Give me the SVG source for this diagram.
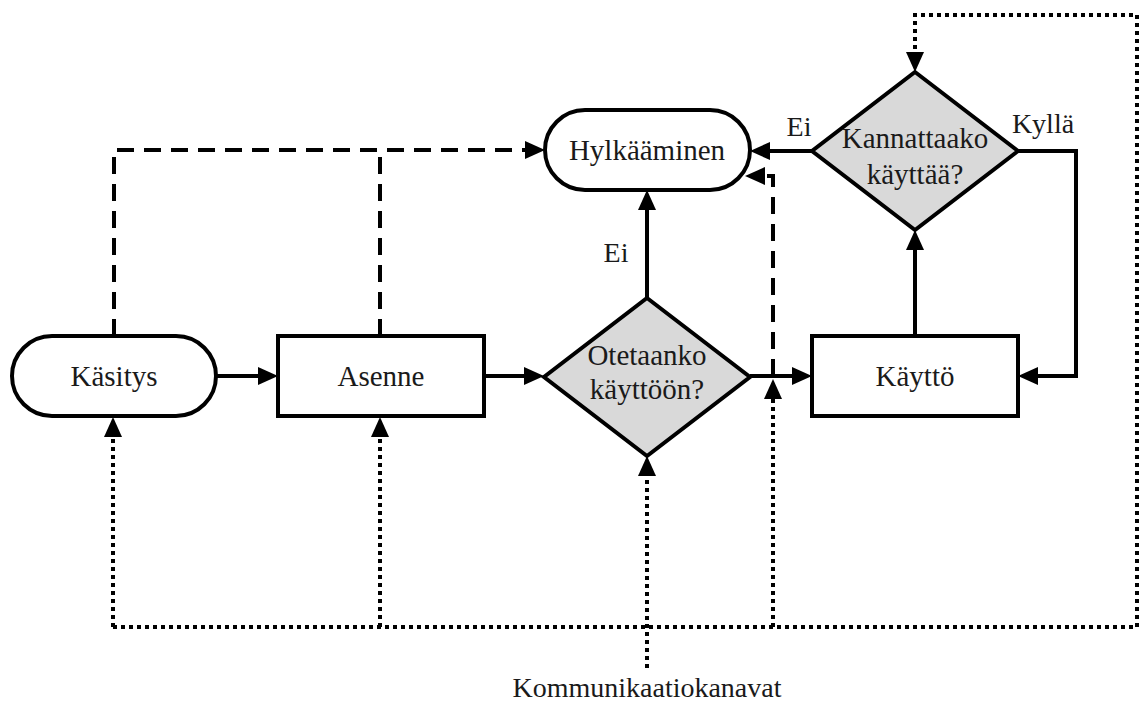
<svg xmlns="http://www.w3.org/2000/svg" width="1141" height="702" viewBox="0 0 1141 702">
  <style>
    .shape { fill: #ffffff; stroke: #000000; stroke-width: 4; }
    .decision { fill: #d9d9d9; stroke: #000000; stroke-width: 4; stroke-linejoin: miter; }
    .label { font-family: "Liberation Serif", "Times New Roman", serif; font-size: 28px; fill: #1a1a1a; text-anchor: middle; }
    .node-label { font-size: 29px; }
    .solid { fill: none; stroke: #000000; stroke-width: 4; }
    .dashed { fill: none; stroke: #000000; stroke-width: 4; stroke-dasharray: 17 10; }
    .dotted { fill: none; stroke: #000000; stroke-width: 4; stroke-dasharray: 4 4; }
  </style>
  <defs>
    <marker id="head" viewBox="0 0 20 18" refX="14" refY="9" markerWidth="20" markerHeight="18" markerUnits="userSpaceOnUse" orient="auto">
      <path d="M0,0 L20,9 L0,18 z" fill="#000000"/>
    </marker>
  </defs>

  <rect width="1141" height="702" fill="#ffffff"/>

  <!-- connectors -->
  <g id="connectors">
    <!-- main flow -->
    <path class="solid" d="M216 376 H272" marker-end="url(#head)"/>
    <path class="solid" d="M484 376 H538" marker-end="url(#head)"/>
    <path class="solid" d="M750 376 H806" marker-end="url(#head)"/>
    <path class="solid" d="M647 298 V196" marker-end="url(#head)"/>
    <path class="solid" d="M915 336 V236" marker-end="url(#head)"/>
    <path class="solid" d="M812 151 H756" marker-end="url(#head)"/>
    <path class="solid" d="M1018 151 H1076 V376 H1024" marker-end="url(#head)"/>

    <!-- rejection paths -->
    <path class="dashed" d="M114 336 V150 H539" marker-end="url(#head)"/>
    <path class="dashed" d="M380 336 V150"/>
    <path class="dashed" d="M773 376 V176 H751" marker-end="url(#head)"/>

    <!-- communication channels -->
    <path class="dotted" d="M113 627 H1137 V15 H915 V66" marker-end="url(#head)"/>
    <path class="dotted" d="M113 627 V423" marker-end="url(#head)"/>
    <path class="dotted" d="M380 627 V423" marker-end="url(#head)"/>
    <path class="dotted" d="M773 627 V385" marker-end="url(#head)"/>
    <path class="dotted" d="M647 668 V462" marker-end="url(#head)"/>

    <text class="label" x="616" y="262">Ei</text>
    <text class="label" x="799" y="136">Ei</text>
    <text class="label" x="1043" y="133">Kyllä</text>
    <text class="label" x="647" y="697">Kommunikaatiokanavat</text>
  </g>

  <g id="kasitys">
    <rect class="shape" x="12" y="336" width="204" height="80" rx="40" ry="40"/>
    <text class="label node-label" x="114" y="386">Käsitys</text>
  </g>

  <g id="asenne">
    <rect class="shape" x="278" y="336" width="206" height="80"/>
    <text class="label node-label" x="381" y="386">Asenne</text>
  </g>

  <g id="otetaanko">
    <polygon class="decision" points="647,298 750,377 647,456 544,377"/>
    <text class="label node-label" x="647" y="365">Otetaanko</text>
    <text class="label node-label" x="647" y="399">käyttöön?</text>
  </g>

  <g id="kaytto">
    <rect class="shape" x="812" y="336" width="206" height="80"/>
    <text class="label node-label" x="915" y="386">Käyttö</text>
  </g>

  <g id="hylkaaminen">
    <rect class="shape" x="545" y="110" width="205" height="80" rx="40" ry="40"/>
    <text class="label node-label" x="647" y="160">Hylkääminen</text>
  </g>

  <g id="kannattaako">
    <polygon class="decision" points="915,72 1018,151 915,230 812,151"/>
    <text class="label node-label" x="915" y="148">Kannattaako</text>
    <text class="label node-label" x="915" y="184">käyttää?</text>
  </g>
</svg>
